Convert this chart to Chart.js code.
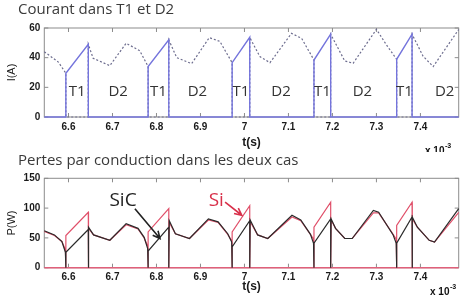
<!DOCTYPE html>
<html>
<head>
<meta charset="utf-8">
<script src="https://cdn.jsdelivr.net/npm/chart.js@4.4.1/dist/chart.umd.min.js"></script>
<style>
  html, body { margin: 0; padding: 0; background: #fff; }
  #wrap { position: relative; width: 464px; height: 297px; overflow: hidden; }
  canvas { position: absolute; left: 0; }
</style>
</head>
<body>
<div id="wrap">
  <canvas id="cur" width="464" height="152" style="top:0"></canvas>
  <canvas id="loss" width="464" height="145" style="top:152px"></canvas>
</div>
<script>
// time axis, in ms (x 10^-3 s)
const xMin = 6.545, xMax = 7.487;
const xTicks = [6.6, 6.7, 6.8, 6.9, 7, 7.1, 7.2, 7.3, 7.4];
const iTicks = [0, 20, 40, 60];
const pTicks = [0, 50, 100, 150];

// T1 conduction intervals
const tOn  = [6.594, 6.781, 6.972, 7.158, 7.346];
const tOff = [6.645, 6.828, 7.012, 7.196, 7.381];

// current (A): T1 start / end, D2 (freewheel) points
const iOn  = [29.5, 34, 36.6, 38.4, 38.9];
const iOff = [49, 52, 53.7, 55.8, 55.8];
const d2Time = [6.545, 6.577, 6.656, 6.694, 6.731, 6.762, 6.846, 6.880, 6.920, 6.944,
                7.035, 7.058, 7.107, 7.130, 7.228, 7.247, 7.300, 7.323, 7.406, 7.429, 7.487];
const d2Current = [44, 37, 39.6, 34.6, 49.7, 44.7, 40, 36, 53.5, 51,
                   40.7, 36.6, 56.4, 53, 37.8, 36.2, 59.1, 48.5, 41, 34, 59];
const d2LabelT = [6.713, 6.893, 7.083, 7.268, 7.455];

// conduction losses (W)
const pTime = [6.545, 6.568, 6.585, 6.593,
               6.646, 6.657, 6.694, 6.731, 6.758, 6.772, 6.780,
               6.829, 6.843, 6.875, 6.918, 6.940, 6.962, 6.971,
               7.013, 7.030, 7.053, 7.108, 7.128, 7.150, 7.157,
               7.197, 7.207, 7.228, 7.245, 7.293, 7.305, 7.338, 7.345,
               7.382, 7.393, 7.420, 7.432, 7.487];
const pSi  = [61, 54, 44, 30,
              66, 55, 46, 72, 65, 50, 36,
              76, 57, 49, 80, 76, 56, 45,
              77, 55, 49, 85, 79, 56, 48,
              80, 66, 49, 49, 92, 92, 56, 48,
              82, 68, 46, 43, 93];
const pSiC = [62, 55, 44, 26,
              68, 55, 46, 74, 66, 51, 32,
              79, 57, 49, 82, 77, 57, 43,
              80, 55, 49, 88, 80, 56, 41,
              82, 66, 49, 49, 96, 93, 55, 41,
              85, 68, 46, 43, 99];
const siOn   = [54, 60, 60, 68, 71];
const siOff  = [93, 99, 104, 110, 110];
const sicOn  = [26, 28, 35, 41, 41];
const sicOff = [64, 68, 79, 82, 85];

const TEXT_FONT = '"Open Sans", "Lato", sans-serif';
const TICK_FONT = { family: '"Liberation Sans", Arial, sans-serif', size: 10, weight: 'bold' };

/* ---- build the traces ---- */
function weave(times, vals, insert) {
  const pts = [];
  let k = 0;
  times.forEach((t, i) => {
    while (k < tOn.length && tOn[k] < t) pts.push(...insert(k++));
    pts.push({ x: t, y: vals[i] });
  });
  return pts;
}

const d2Pts = weave(d2Time, d2Current, k => [
  { x: tOn[k], y: iOn[k] }, { x: tOn[k], y: 0 }, { x: tOff[k], y: 0 }, { x: tOff[k], y: iOff[k] }
]);

const t1Pts = [{ x: xMin, y: 0 }];
tOn.forEach((t, k) => {
  t1Pts.push({ x: t, y: 0 }, { x: t, y: iOn[k] }, { x: tOff[k], y: iOff[k] }, { x: tOff[k], y: 0 });
});
t1Pts.push({ x: xMax, y: 0 });

const pulse = (on, off) => k => [
  { x: tOn[k], y: 0 }, { x: tOn[k], y: on[k] }, { x: tOff[k], y: off[k] }, { x: tOff[k], y: 0 }
];
const siPts = weave(pTime, pSi, pulse(siOn, siOff));
const sicPts = weave(pTime, pSiC, pulse(sicOn, sicOff));

/* ---- box, inner ticks, texts ---- */
const deco = {
  id: 'deco',
  beforeDatasetsDraw(chart) {
    const { ctx, chartArea: a, scales: { x, y } } = chart;
    ctx.save();
    ctx.strokeStyle = '#8c8c8c';
    ctx.lineWidth = 1;
    ctx.strokeRect(a.left, a.top, a.width, a.height);
    ctx.beginPath();
    x.ticks.forEach(t => {
      const px = x.getPixelForValue(t.value);
      ctx.moveTo(px, a.bottom); ctx.lineTo(px, a.bottom - 4);
      ctx.moveTo(px, a.top); ctx.lineTo(px, a.top + 4);
    });
    y.ticks.forEach(t => {
      const py = y.getPixelForValue(t.value);
      ctx.moveTo(a.left, py); ctx.lineTo(a.left + 4, py);
      ctx.moveTo(a.right, py); ctx.lineTo(a.right - 4, py);
    });
    ctx.stroke();
    ctx.restore();
  },
  afterDraw(chart, args, o) {
    const { ctx, scales: { x, y } } = chart;
    ctx.save();
    ctx.fillStyle = '#3a3a3a';
    ctx.font = '15px ' + TEXT_FONT;
    ctx.textAlign = 'left';
    ctx.textBaseline = 'alphabetic';
    ctx.fillText(o.title, 18, o.titleY);

    // x 10^-3
    ctx.fillStyle = '#111';
    ctx.font = 'bold 10px "Liberation Sans", Arial, sans-serif';
    ctx.fillText('x 10', o.expX, o.expY);
    const w = ctx.measureText('x 10').width;
    ctx.font = 'bold 7px "Liberation Sans", Arial, sans-serif';
    ctx.fillText('-3', o.expX + w + 0.5, o.expY - 6);

    ctx.textAlign = 'center';
    ctx.textBaseline = 'middle';
    (o.labels || []).forEach(l => {
      ctx.fillStyle = l.color;
      ctx.font = l.font;
      ctx.fillText(l.text, x.getPixelForValue(l.t), y.getPixelForValue(l.v));
    });

    (o.arrows || []).forEach(a => {
      const x0 = x.getPixelForValue(a.t0), y0 = y.getPixelForValue(a.v0);
      const x1 = x.getPixelForValue(a.t1), y1 = y.getPixelForValue(a.v1);
      const ang = Math.atan2(y1 - y0, x1 - x0);
      ctx.strokeStyle = a.color;
      ctx.lineWidth = 1.6;
      ctx.beginPath();
      ctx.moveTo(x0, y0); ctx.lineTo(x1, y1);
      ctx.moveTo(x1 - 8 * Math.cos(ang - 0.45), y1 - 8 * Math.sin(ang - 0.45));
      ctx.lineTo(x1, y1);
      ctx.lineTo(x1 - 8 * Math.cos(ang + 0.45), y1 - 8 * Math.sin(ang + 0.45));
      ctx.stroke();
    });
    ctx.restore();
  }
};

function axes(yTicks, yMax, yTitle, bottomH, titlePad) {
  return {
    x: {
      type: 'linear', min: xMin, max: xMax,
      grid: { display: false, drawTicks: false }, border: { display: false },
      afterBuildTicks: s => { s.ticks = xTicks.map(v => ({ value: v })); },
      afterFit: s => { s.height = bottomH; },
      ticks: { padding: 4, color: '#1a1a1a', font: TICK_FONT, maxRotation: 0, autoSkip: false,
               callback: v => String(v) },
      title: { display: true, text: 't(s)', color: '#1a1a1a',
               font: { family: '"Liberation Sans", Arial, sans-serif', size: 12, weight: 'bold' },
               padding: { top: 0, bottom: titlePad } }
    },
    y: {
      type: 'linear', min: 0, max: yMax,
      grid: { display: false, drawTicks: false }, border: { display: false },
      afterBuildTicks: s => { s.ticks = yTicks.map(v => ({ value: v })); },
      afterFit: s => { s.width = 44.3; },
      ticks: { padding: 4, color: '#1a1a1a', font: TICK_FONT, callback: v => String(v) },
      title: { display: true, text: yTitle, color: '#1a1a1a',
               font: { family: '"Liberation Sans", Arial, sans-serif', size: 11 },
               padding: { top: 5, bottom: 0 } }
    }
  };
}

const common = {
  responsive: false,
  animation: false,
  events: [],
  elements: { point: { radius: 0 }, line: { tension: 0 } }
};

/* Courant dans T1 et D2 */
const labelsTop = [];
tOn.forEach((t, k) => labelsTop.push({ text: 'T1', t: (t + tOff[k]) / 2, v: 17, color: '#333', font: '15px ' + TEXT_FONT }));
d2LabelT.forEach(t => labelsTop.push({ text: 'D2', t, v: 17, color: '#333', font: '15px ' + TEXT_FONT }));

new Chart(document.getElementById('cur'), {
  type: 'scatter',
  data: {
    datasets: [
      { data: t1Pts, showLine: true, borderColor: '#7474dc', borderWidth: 1.4, clip: 4, order: 1 },
      { data: d2Pts, showLine: true, borderColor: '#6c6c8e', borderWidth: 1.2, borderDash: [2, 2], clip: 4, order: 2 }
    ]
  },
  options: {
    ...common,
    layout: { padding: { top: 28, right: 5.3, left: 0, bottom: 0 } },
    scales: axes(iTicks, 60, 'I(A)', 35, 2),
    plugins: {
      legend: { display: false }, tooltip: { enabled: false },
      deco: { title: 'Courant dans T1 et D2', titleY: 14, expX: 425, expY: 154, labels: labelsTop }
    }
  },
  plugins: [deco]
});

/* Pertes par conduction dans les deux cas */
new Chart(document.getElementById('loss'), {
  type: 'scatter',
  data: {
    datasets: [
      { data: [{ x: xMin, y: 0 }, { x: xMax, y: 0 }], showLine: true, borderColor: '#e0607a', borderWidth: 1.5, clip: 4, order: 3 },
      { data: siPts, showLine: true, borderColor: '#e0506a', borderWidth: 1.2, clip: 4, order: 2 },
      { data: sicPts, showLine: true, borderColor: '#2b2b2b', borderWidth: 1.2, clip: 4, order: 1 }
    ]
  },
  options: {
    ...common,
    layout: { padding: { top: 26.3, right: 5.3, left: 0, bottom: 0 } },
    scales: axes(pTicks, 150, 'P(W)', 29.3, 3),
    plugins: {
      legend: { display: false }, tooltip: { enabled: false },
      deco: {
        title: 'Pertes par conduction dans les deux cas', titleY: 13, expX: 430, expY: 143,
        labels: [
          { text: 'SiC', t: 6.724, v: 113, color: '#222', font: '19px ' + TEXT_FONT },
          { text: 'Si', t: 6.936, v: 112, color: '#d8304a', font: '19px ' + TEXT_FONT }
        ],
        arrows: [
          { t0: 6.751, v0: 99, t1: 6.808, v1: 49, color: '#222' },
          { t0: 6.956, v0: 110, t1: 6.994, v1: 88, color: '#d8304a' }
        ]
      }
    }
  },
  plugins: [deco]
});
</script>
</body>
</html>
